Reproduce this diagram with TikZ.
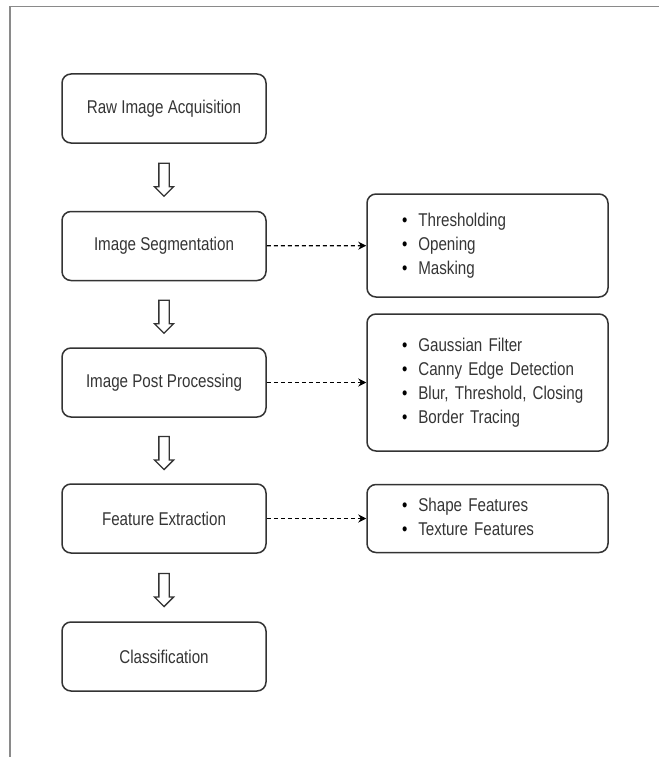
\documentclass[tikz,border=0pt]{standalone}
\usepackage{fontspec}
\setmainfont{Liberation Sans}[FakeStretch=0.82]
\usepackage{xcolor}
\usepackage{tikz}
\usetikzlibrary{arrows.meta,shapes.arrows,calc}
\definecolor{boxline}{HTML}{333333}
\definecolor{txtgray}{HTML}{353535}
\definecolor{framegray}{HTML}{8A8A8A}
\newcommand{\itm}{{\color{black}\textbullet}}

\begin{document}
\begin{tikzpicture}[x=1pt,y=-1pt,
  stage/.style={draw=boxline,line width=1.5pt,rounded corners=9pt,minimum width=204pt,minimum height=69pt,text=txtgray,font=\fontsize{18.5}{24}\selectfont},
  listbox/.style={stage,minimum width=241pt,text width=201pt,inner xsep=20pt,align=left},
  hollow/.style={shape=single arrow,draw=boxline,line width=1.3pt,fill=white,shape border rotate=270,minimum height=33pt,minimum width=18pt,single arrow head extend=4.5pt,single arrow head indent=0pt,inner sep=4.5pt},
  link/.style={draw=black,line width=1.3pt,dash pattern=on 4pt off 3pt,-{Stealth[length=8pt,width=8pt]}}]

	\useasboundingbox (0,0) rectangle (659,757);
	\draw[framegray,line width=1.5pt] (10,757) -- (10,6.5) -- (659,6.5);

	% The stages
	\node [stage] at (164,108.5) (raw) {Raw Image Acquisition};
	\node [stage] at (164,246) (seg) {Image Segmentation};
	\node [stage] at (164,382.5) (post) {Image Post Processing};
	\node [stage] at (164,518.5) (feat) {Feature Extraction};
	\node [stage] at (164,656.5) (cls) {Classification};

	% The operations
	\node [listbox,minimum height=103pt] at (487.5,245.5) (segops) {\begin{tabular}{@{\hspace{15pt}}c@{\hspace{11pt}}l@{}}
		\itm & Thresholding\\ \itm & Opening\\ \itm & Masking\end{tabular}};
	\node [listbox,minimum height=137pt] at (487.5,382.5) (postops) {\begin{tabular}{@{\hspace{15pt}}c@{\hspace{11pt}}l@{}}
		\itm & Gaussian Filter\\ \itm & Canny Edge Detection\\ \itm & Blur, Threshold, Closing\\ \itm & Border Tracing\end{tabular}};
	\node [listbox,minimum height=68pt] at (487.5,518.5) (featops) {\begin{tabular}{@{\hspace{15pt}}c@{\hspace{11pt}}l@{}}
		\itm & Shape Features\\ \itm & Texture Features\end{tabular}};

	% Flow arrows
	\node [hollow] at ($(raw.south)!0.5!(seg.north)$) (a1) {};
	\node [hollow] at ($(seg.south)!0.5!(post.north)$) (a2) {};
	\node [hollow] at ($(post.south)!0.5!(feat.north)$) (a3) {};
	\node [hollow] at ($(feat.south)!0.5!(cls.north)$) (a4) {};

	% Dashed links
	\path[link]
	(seg) edge (segops)
	(post) edge (postops)
	(feat) edge (featops);

\end{tikzpicture}
\end{document}
